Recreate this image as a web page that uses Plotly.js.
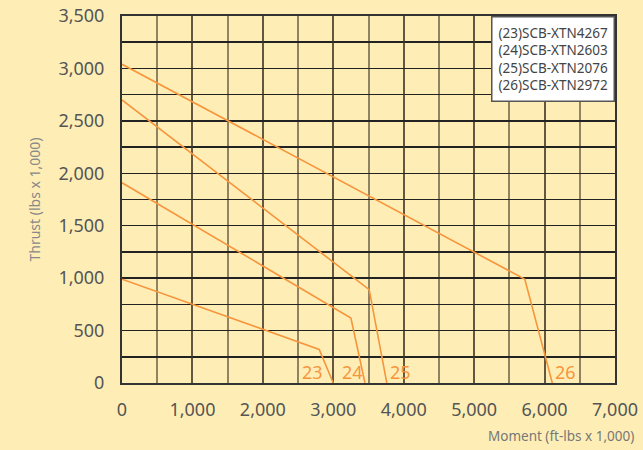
<!DOCTYPE html>
<html>
<head>
<meta charset="utf-8">
<script src="https://cdn.plot.ly/plotly-3.0.1.min.js"></script>
<style>html,body{margin:0;padding:0;background:#feeeb6;}#chart{width:643px;height:450px;}</style>
</head>
<body>
<div id="chart"></div>
<script>
// Data
var seriesIds = ["23", "24", "25", "26"];
var seriesModels = ["SCB-XTN4267", "SCB-XTN2603", "SCB-XTN2076", "SCB-XTN2972"];
var moment23 = [0, 2800, 3000];
var thrust23 = [990, 320, 0];
var moment24 = [0, 3250, 3450];
var thrust24 = [1910, 620, 0];
var moment25 = [0, 3510, 3760];
var thrust25 = [2700, 890, 0];
var moment26 = [0, 5720, 6110];
var thrust26 = [3040, 990, 0];
var labelX = [2700, 3270, 3950, 6300];
var xTickVals = [0, 1000, 2000, 3000, 4000, 5000, 6000, 7000];
var xTickText = ["0", "1,000", "2,000", "3,000", "4,000", "5,000", "6,000", "7,000"];
var yTickVals = [0, 500, 1000, 1500, 2000, 2500, 3000, 3500];
var yTickText = ["0", "500", "1,000", "1,500", "2,000", "2,500", "3,000", "3,500"];

var xs = [moment23, moment24, moment25, moment26];
var ys = [thrust23, thrust24, thrust25, thrust26];
var lineColor = "#f7953c";

var traces = seriesIds.map(function (id, i) {
  return {
    x: xs[i], y: ys[i], type: "scatter", mode: "lines",
    name: "(" + id + ")" + seriesModels[i],
    line: {color: lineColor, width: 1.6},
    showlegend: false, hoverinfo: "x+y"
  };
});

var annotations = seriesIds.map(function (id, i) {
  return {
    x: labelX[i], y: 0, xref: "x", yref: "y", text: id, showarrow: false,
    xanchor: "center", yanchor: "bottom", yshift: -3,
    font: {family: "Noto Sans, sans-serif", size: 18, color: "#f7953c"}
  };
});

annotations.push({
  xref: "paper", yref: "paper", x: 1.0, y: 1.0, xanchor: "right", yanchor: "top",
  text: seriesIds.map(function (id, i) { return "(" + id + ")" + seriesModels[i]; }).join("<br>"),
  align: "left", showarrow: false,
  bgcolor: "#ffffff", bordercolor: "#555555", borderwidth: 1.5, borderpad: 6,
  font: {family: "Noto Sans, sans-serif", size: 13.5, color: "#444444"}
});

annotations.push({
  xref: "paper", yref: "paper", x: 1.043, y: -0.145, xanchor: "right", yanchor: "middle",
  text: "Moment (ft-lbs x 1,000)", showarrow: false,
  font: {family: "Noto Sans, sans-serif", size: 13.5, color: "#777777"}
});

var layout = {
  width: 643, height: 450,
  margin: {l: 122, r: 28, t: 15.5, b: 66.5},
  paper_bgcolor: "#feeeb6", plot_bgcolor: "#feeeb6",
  font: {family: "Noto Sans, sans-serif", color: "#555555"},
  xaxis: {
    range: [0, 7000],
    tickvals: xTickVals, ticktext: xTickText,
    showgrid: true, gridcolor: "rgba(70,60,40,0.6)", gridwidth: 2,
    minor: {showgrid: true, dtick: 500, tick0: 0, gridcolor: "rgba(70,60,40,0.6)", gridwidth: 2},
    zeroline: false, showline: true, linecolor: "#333333", linewidth: 2, mirror: true,
    ticks: "", ticklabelstandoff: 9,
    tickfont: {size: 18, color: "#555555"}
  },
  yaxis: {
    range: [0, 3500],
    tickvals: yTickVals, ticktext: yTickText,
    showgrid: true, gridcolor: "#222222", gridwidth: 1.5,
    minor: {showgrid: true, dtick: 250, tick0: 0, gridcolor: "#222222", gridwidth: 1.5},
    zeroline: false, showline: true, linecolor: "#333333", linewidth: 2, mirror: true,
    ticks: "", ticklabelstandoff: 12,
    tickfont: {size: 18, color: "#555555"},
    title: {text: "Thrust (lbs x 1,000)", standoff: 14, font: {size: 14, color: "#888888"}}
  },
  annotations: annotations
};

Plotly.newPlot("chart", traces, layout, {displayModeBar: false, staticPlot: true});
</script>
</body>
</html>
